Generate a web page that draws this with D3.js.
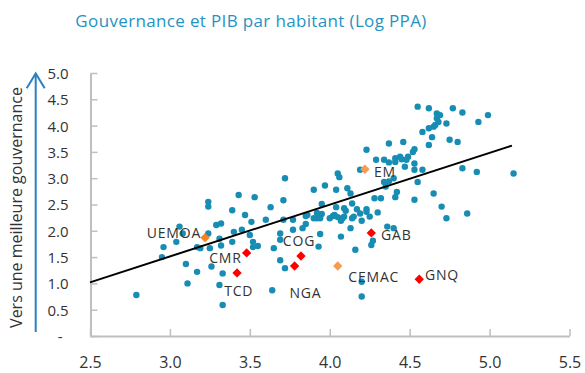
<!DOCTYPE html>
<html>
<head>
<meta charset="utf-8">
<script src="https://cdn.jsdelivr.net/npm/d3@7/dist/d3.min.js"></script>
<style>
  html, body { margin: 0; padding: 0; background: #fff; }
  svg { display: block; font-family: "Open Sans", "Noto Sans", sans-serif; }
</style>
</head>
<body>
<svg id="chart" width="585" height="373"></svg>
<script>
// Log GDP per capita (PPP) and governance score for the country sample
const gdpLog = [
  2.79, 3.06, 3.08, 3.04, 2.96, 2.95, 3.10, 3.11, 3.17, 3.24,
  3.24, 3.29, 3.32, 3.24, 3.17, 3.19, 3.25, 3.26, 3.31, 3.32,
  3.33, 3.31, 3.33, 3.39, 3.43, 3.40, 3.39, 3.45, 3.47, 3.51,
  3.50, 3.52, 3.53, 3.55, 3.52, 3.72, 3.71, 3.63, 3.60, 3.69,
  3.69, 3.65, 3.69, 3.72, 3.64, 3.71, 3.77, 3.77, 3.86, 3.83,
  3.90, 3.97, 4.05, 4.06, 4.04, 4.11, 4.13, 3.95, 4.14, 4.04,
  4.09, 4.10, 4.17, 4.19, 4.23, 4.23, 4.30, 4.25, 4.14, 4.15,
  4.20, 4.02, 4.03, 4.05, 4.08, 4.09, 4.07, 4.00, 3.95, 3.92,
  3.90, 3.92, 3.94, 3.85, 3.85, 3.94, 4.13, 4.07, 3.93, 4.16,
  4.36, 4.40, 4.27, 4.26, 4.20, 4.20, 4.23, 4.37, 4.46, 4.29,
  4.34, 4.37, 4.41, 4.41, 4.44, 4.45, 4.48, 4.49, 4.47, 4.19,
  4.34, 4.37, 4.40, 4.35, 4.42, 4.41, 4.28, 4.32, 4.55, 4.62,
  4.77, 4.83, 4.99, 4.93, 4.67, 4.69, 4.67, 4.68, 4.66, 4.73,
  4.62, 4.65, 4.58, 4.64, 4.75, 4.80, 4.62, 4.53, 4.52, 4.53,
  4.53, 4.58, 4.55, 4.83, 4.92, 5.15, 4.65, 4.53, 4.70, 4.86,
  4.73
];
const governance = [
  0.78, 2.08, 1.95, 1.79, 1.69, 1.50, 1.37, 1.00, 1.22, 2.55,
  2.46, 2.11, 2.14, 1.95, 1.69, 1.67, 1.67, 1.32, 1.85, 1.72,
  1.19, 0.97, 0.59, 2.39, 2.68, 1.98, 1.79, 2.02, 2.30, 2.17,
  1.92, 1.79, 2.64, 1.71, 1.69, 3.00, 2.58, 2.45, 2.21, 1.95,
  1.83, 1.67, 1.44, 1.29, 0.87, 2.21, 2.21, 2.02, 2.30, 2.05,
  2.78, 2.86, 3.09, 3.02, 2.78, 2.81, 2.71, 2.51, 2.52, 2.45,
  2.43, 2.38, 2.41, 2.33, 2.41, 2.36, 2.35, 2.27, 2.24, 2.27,
  2.19, 2.28, 2.30, 2.26, 2.24, 2.27, 2.19, 2.24, 2.32, 2.34,
  2.24, 2.24, 2.24, 2.28, 2.13, 1.94, 2.05, 1.89, 1.70, 1.64,
  2.08, 2.05, 1.81, 1.73, 1.03, 0.75, 3.54, 3.66, 3.69, 3.35,
  3.35, 3.30, 3.38, 3.31, 3.41, 3.36, 3.35, 3.41, 3.22, 3.16,
  2.93, 2.94, 3.00, 2.84, 2.74, 2.64, 2.62, 2.62, 4.36, 4.33,
  4.33, 4.25, 4.20, 4.07, 4.23, 4.20, 4.14, 4.07, 4.01, 4.04,
  3.95, 3.98, 3.88, 3.78, 3.73, 3.69, 3.63, 3.55, 3.50, 3.28,
  3.16, 3.16, 2.93, 3.19, 3.12, 3.09, 2.71, 2.59, 2.46, 2.33,
  2.24
];

// Highlighted economies and regional aggregates
const highlightNames = ["UEMOA", "CMR", "TCD", "COG", "NGA", "CEMAC", "EM", "GAB", "GNQ"];
const highlightGdp   = [3.22, 3.48, 3.42, 3.82, 3.78, 4.05, 4.22, 4.26, 4.56];
const highlightGov   = [1.87, 1.58, 1.20, 1.52, 1.33, 1.33, 3.17, 1.96, 1.08];
const highlightKind  = ["region", "country", "country", "country", "country", "aggregate", "aggregate", "country", "country"];

// Fitted trend line end points
const trendGdp = [2.5, 5.14];
const trendGov = [1.02, 3.62];

const xTicks = [2.5, 3.0, 3.5, 4.0, 4.5, 5.0, 5.5];
const yTicks = [0, 0.5, 1.0, 1.5, 2.0, 2.5, 3.0, 3.5, 4.0, 4.5, 5.0];

const titleText = "Gouvernance et PIB par habitant (Log PPA)";
const yAxisTitle = "Vers une meilleure gouvernance";

// ---- drawing ----
const svg = d3.select("#chart");
const x = d3.scaleLinear().domain([2.5, 5.5]).range([90, 569.5]);
const y = d3.scaleLinear().domain([0, 5]).range([336, 73]);

const axisColor = "#bfbfbf";
const textColor = "#333333";
const dotColor = "#178db4";
const kindColor = { country: "#ff0000", region: "#f4821f", aggregate: "#f79c4e" };

// label placement relative to each marker (pixels)
const labelPlacement = {
  UEMOA: { dx: -4,  dy: 0,   anchor: "end" },
  CMR:   { dx: -5,  dy: 10.6, anchor: "end" },
  TCD:   { dx: 1.7, dy: 23.3, anchor: "middle" },
  COG:   { dx: -2,  dy: -9.8, anchor: "middle" },
  NGA:   { dx: 10.8, dy: 32.3, anchor: "middle" },
  CEMAC: { dx: 10.6, dy: 15.7, anchor: "start" },
  EM:    { dx: 9,   dy: 7.4, anchor: "start" },
  GAB:   { dx: 9.7, dy: 7.3, anchor: "start" },
  GNQ:   { dx: 5.7, dy: 0.7, anchor: "start" }
};

// title
svg.append("text")
  .attr("x", 251).attr("y", 27)
  .attr("text-anchor", "middle")
  .attr("fill", "#1f93c2")
  .style("font-size", "17px")
  .style("letter-spacing", "0.35px")
  .text(titleText);

// y axis title and arrow
svg.append("text")
  .attr("transform", "translate(22,207.5) rotate(-90)")
  .attr("text-anchor", "middle")
  .attr("fill", textColor)
  .style("font-size", "16px")
  .text(yAxisTitle);

const arrow = svg.append("g").attr("stroke", "#2a80c2").attr("stroke-width", 2).attr("fill", "none");
arrow.append("line").attr("x1", 35.7).attr("x2", 35.7).attr("y1", 332).attr("y2", 74);
arrow.append("path").attr("d", "M26.7,88.3 L35.7,73.5 L44.7,88.3");

// axes
const xAxis = d3.axisBottom(x).tickValues(xTicks).tickSizeInner(-7).tickSizeOuter(0)
  .tickFormat(d3.format(".1f"));
const gx = svg.append("g").attr("transform", "translate(0,336)").call(xAxis);
gx.select(".domain").attr("stroke", axisColor).attr("stroke-width", 2);
gx.selectAll(".tick line").attr("stroke", axisColor).attr("stroke-width", 1.5);
gx.selectAll(".tick text").attr("y", 32).attr("dy", null)
  .attr("fill", textColor).style("font-size", "16px").style("font-family", "'Open Sans', sans-serif");

const yAxis = d3.axisLeft(y).tickValues(yTicks).tickSizeInner(-7).tickSizeOuter(0)
  .tickFormat(d => d === 0 ? "-" : d3.format(".1f")(d));
const gy = svg.append("g").attr("transform", "translate(90.5,0)").call(yAxis);
gy.select(".domain").attr("stroke", axisColor).attr("stroke-width", 2);
gy.selectAll(".tick line").attr("stroke", axisColor).attr("stroke-width", 1.5);
gy.selectAll(".tick text").attr("x", -22).attr("dy", "0.36em")
  .attr("fill", textColor).style("font-size", "15px").style("font-family", "'Open Sans', sans-serif");
gy.selectAll(".tick text").filter(d => d === 0).attr("x", -28);

// scatter of all countries
const points = gdpLog.map((g, i) => ({ g, v: governance[i] }));
svg.append("g").selectAll("circle").data(points).join("circle")
  .attr("cx", d => x(d.g)).attr("cy", d => y(d.v)).attr("r", 3.2)
  .attr("fill", dotColor);

// trend line
svg.append("line")
  .attr("x1", x(trendGdp[0])).attr("y1", y(trendGov[0]))
  .attr("x2", x(trendGdp[1])).attr("y2", y(trendGov[1]))
  .attr("stroke", "#000").attr("stroke-width", 2);

// highlighted markers (diamonds)
const highlights = highlightNames.map((n, i) => ({ n, g: highlightGdp[i], v: highlightGov[i], k: highlightKind[i] }));
const diamond = d3.symbol().type(d3.symbolDiamond2).size(56);
svg.append("g").selectAll("path").data(highlights).join("path")
  .attr("d", diamond)
  .attr("transform", d => `translate(${x(d.g)},${y(d.v)})`)
  .attr("fill", d => kindColor[d.k]);

svg.append("g").selectAll("text").data(highlights).join("text")
  .attr("x", d => x(d.g) + labelPlacement[d.n].dx)
  .attr("y", d => y(d.v) + labelPlacement[d.n].dy)
  .attr("text-anchor", d => labelPlacement[d.n].anchor)
  .attr("fill", textColor)
  .style("font-size", "14px")
  .style("letter-spacing", "0.8px")
  .text(d => d.n);
</script>
</body>
</html>
